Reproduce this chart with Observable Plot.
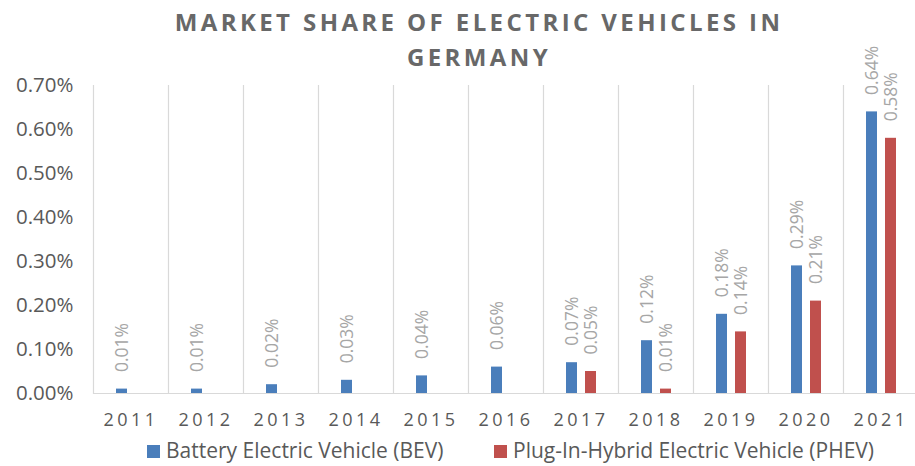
<!DOCTYPE html>
<html><head><meta charset="utf-8">
<script src="https://cdn.jsdelivr.net/npm/d3@7"></script>
<script src="https://cdn.jsdelivr.net/npm/@observablehq/plot@0.6"></script>
<style>
body{margin:0;background:#fff;font-family:"Open Sans",sans-serif;}
#wrap{position:relative;width:915px;height:466px;overflow:hidden;background:#fff;}
#title{position:absolute;top:4px;left:0;width:958px;text-align:center;font-family:"Open Sans",sans-serif;font-weight:700;font-size:24px;letter-spacing:3.4px;line-height:35px;color:#686868;z-index:2;}
#chart{position:absolute;top:0;left:0;}
#legend{position:absolute;top:439px;left:0;width:915px;height:22px;font-size:21px;line-height:22px;color:#595959;}
.item{position:absolute;top:0;display:flex;align-items:center;height:22px;line-height:22px;}
.sw{width:13px;height:13px;margin-right:6px;margin-top:2px;}
g[aria-label="fx-axis tick label"] text{letter-spacing:3.5px;}
</style></head><body>
<div id="wrap">
<div id="chart"></div>
<div id="title">MARKET SHARE OF ELECTRIC VEHICLES IN<br>GERMANY</div>
<div id="legend"></div>
</div>
<script>
const years = ["2011","2012","2013","2014","2015","2016","2017","2018","2019","2020","2021"];
const bevValues = [0.01,0.01,0.02,0.03,0.04,0.06,0.07,0.12,0.18,0.29,0.64];
const phevValues = [null,null,null,null,null,null,0.05,0.01,0.14,0.21,0.58];
const seriesNames = ["Battery Electric Vehicle (BEV)","Plug-In-Hybrid Electric Vehicle (PHEV)"];
const seriesKeys = ["BEV","PHEV"];
const seriesColors = ["#4a7ebb","#c0504d"];
const yTicks = [0,0.1,0.2,0.3,0.4,0.5,0.6,0.7];

const data = [];
years.forEach((y,i)=>{
  if (bevValues[i]!=null) data.push({year:y, series:"BEV", value:bevValues[i]});
  if (phevValues[i]!=null) data.push({year:y, series:"PHEV", value:phevValues[i]});
});

const chart = Plot.plot({
  width: 915,
  height: 432,
  marginTop: 85,
  marginBottom: 39,
  marginLeft: 90,
  marginRight: -5,
  style: {fontFamily: "'Open Sans', sans-serif", background: "transparent"},
  fx: {domain: years, padding: 0, label: null},
  x: {domain: seriesKeys, paddingInner: 0.436, paddingOuter: 1.154, axis: null},
  y: {domain: [0, 0.7], label: null},
  color: {domain: seriesKeys, range: seriesColors},
  marks: [
    Plot.frame({anchor: "left", stroke: "#d9d9d9", strokeWidth: 1.2}),
    Plot.ruleY([0], {stroke: "#d9d9d9", strokeWidth: 1.2}),
    Plot.barY(data, {fx: "year", x: "series", y: "value", fill: "series"}),
    Plot.text(data, {fx: "year", x: "series", y: "value", text: d => d.value.toFixed(2) + "%",
      rotate: -90, textAnchor: "start", dy: -17, fill: "#a6a6a6", fontSize: 17.5}),
    Plot.axisY({ticks: yTicks, tickFormat: d => d.toFixed(2) + "%", tickSize: 0, tickPadding: 20,
      fontSize: 20.5, fill: "#595959", label: null}),
    Plot.axisFx({anchor: "bottom", tickSize: 0, tickPadding: 20, fontSize: 18, fill: "#595959", label: null})
  ]
});
document.getElementById("chart").appendChild(chart);

const legend = document.getElementById("legend");
const lefts = [147, 494];
seriesNames.forEach((name,i)=>{
  const it = document.createElement("div");
  it.className = "item";
  it.style.left = lefts[i] + "px";
  const sw = document.createElement("div");
  sw.className = "sw";
  sw.style.background = seriesColors[i];
  const tx = document.createElement("span");
  tx.textContent = name;
  it.appendChild(sw); it.appendChild(tx);
  legend.appendChild(it);
});
</script>
</body></html>
